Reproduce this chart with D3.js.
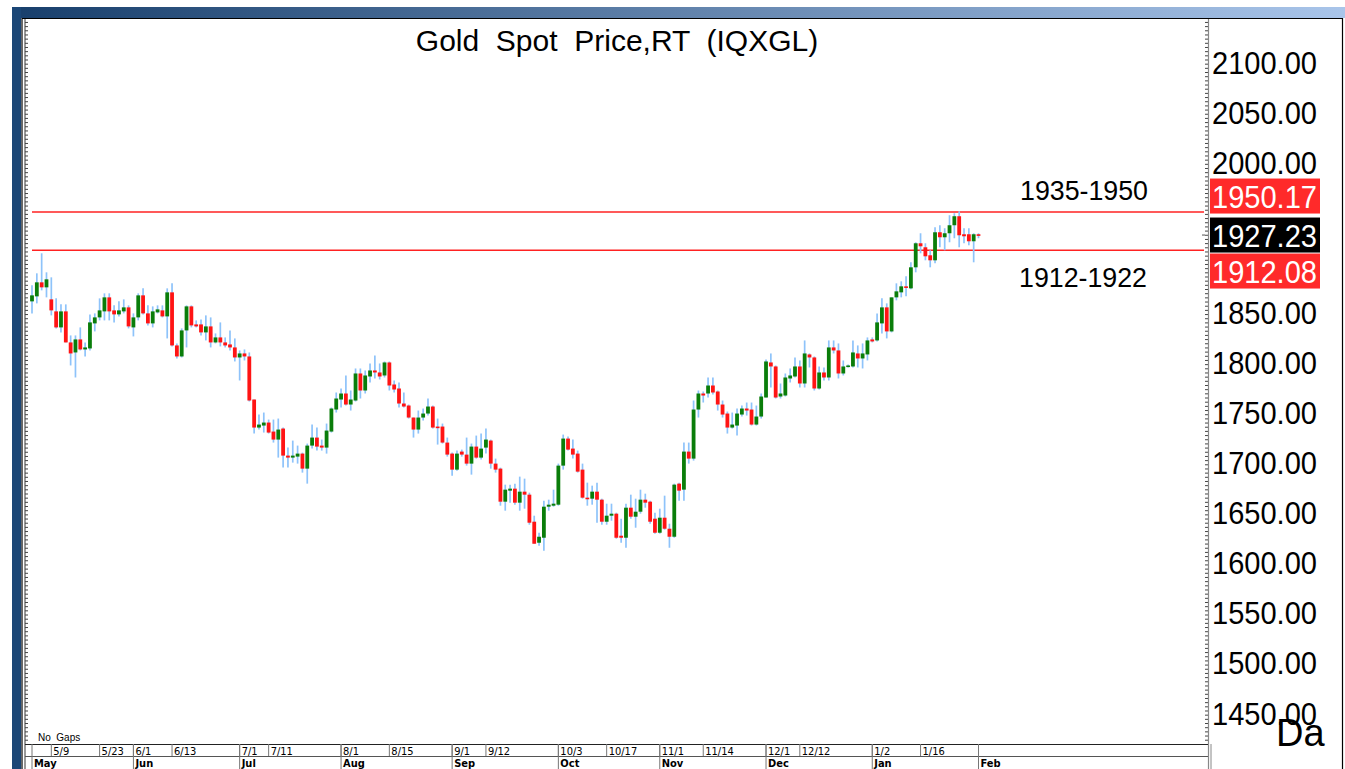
<!DOCTYPE html>
<html>
<head>
<meta charset="utf-8">
<script src="https://cdn.jsdelivr.net/npm/d3@7"></script>
<style>
  body { margin: 0; background: #fff; }
  svg { display: block; font-family: "Liberation Sans", Arial, sans-serif; }
</style>
</head>
<body>
<div id="chart"></div>
<script>
// Trading days shown on the chart (weekdays, May 3 2022 -> Feb 1 2023)
const dates = d3.timeDay.range(new Date(2022, 4, 3), new Date(2023, 1, 2))
    .filter(d => d.getDay() % 6 !== 0)
    .map(d3.timeFormat("%Y-%m-%d"));

// OHLC, one value per trading day
const opens = [1861,1866,1880,1875,1863,1851,1835,1851,1820,1810,1823,1813,1814,1839,1845,1851,1865,1852,1848,1851,1855,
  1835,1845,1867,1849,1839,1850,1852,1846,1870,1817,1806,1832,1856,1838,1838,1830,1836,1820,1825,1820,1818,1815,
  1805,1809,1806,1763,1735,1737,1740,1731,1723,1734,1707,1705,1706,1709,1694,1717,1725,1717,1715,1731,1753,
  1763,1769,1758,1762,1789,1772,1786,1792,1790,1787,1800,1778,1774,1759,1757,1745,1733,1745,1749,1756,1736,1736,1720,
  1709,1693,1711,1708,1699,1716,1705,1715,1722,1699,1694,1661,1672,1674,1660,1671,1668,1641,1620,1625,1656,1657,
  1658,1697,1724,1714,1709,1693,1665,1664,1671,1663,1641,1647,1649,1627,1625,1655,1646,1651,1663,1661,1644,
  1630,1645,1634,1626,1679,1673,1711,1704,1753,1769,1769,1777,1771,1758,1749,1735,1737,1748,1754,1753,1738,1746,
  1765,1800,1796,1766,1767,1784,1786,1796,1779,1808,1805,1774,1790,1785,1815,1812,1789,1796,1796,1809,1804,1808,
  1823,1822,1839,1855,1831,1865,1870,1876,1874,1895,1919,1915,1907,1902,1930,1925,1929,1937,1946,1928,1928,1921,
  1928];
const highs = [1877,1889,1909,1890,1885,1864,1858,1858,1827,1827,1835,1820,1848,1849,1864,1869,1869,1857,1861,1863,1857,
  1849,1869,1874,1857,1856,1857,1857,1874,1879,1819,1834,1857,1857,1842,1843,1847,1845,1829,1840,1825,1832,1824,
  1812,1813,1810,1763,1748,1750,1743,1743,1744,1735,1715,1722,1717,1710,1719,1738,1735,1723,1739,1755,1770,
  1774,1787,1772,1794,1794,1792,1799,1807,1799,1801,1801,1782,1780,1770,1758,1745,1752,1754,1764,1757,1744,1739,1725,
  1710,1712,1713,1725,1719,1727,1729,1734,1723,1704,1695,1678,1678,1679,1686,1684,1670,1647,1630,1662,1663,1673,
  1699,1728,1726,1723,1712,1699,1680,1677,1680,1664,1659,1659,1650,1644,1659,1668,1664,1673,1669,1662,1650,
  1654,1667,1639,1679,1680,1720,1720,1762,1772,1771,1785,1785,1772,1762,1751,1750,1754,1757,1760,1760,1757,1769,
  1803,1809,1797,1779,1789,1794,1805,1802,1822,1809,1806,1796,1795,1822,1822,1819,1802,1798,1822,1817,1819,1825,
  1825,1849,1864,1859,1865,1879,1881,1886,1900,1920,1929,1919,1912,1935,1937,1934,1947,1949,1951,1934,1934,1929,
  1929];
const lows = [1849,1859,1872,1865,1847,1834,1830,1820,1797,1785,1812,1806,1812,1831,1842,1842,1842,1840,1846,1849,1834,
  1826,1842,1848,1837,1835,1849,1845,1824,1816,1804,1805,1815,1835,1835,1827,1822,1815,1819,1816,1815,1812,1801,
  1782,1802,1761,1729,1733,1730,1729,1720,1705,1695,1695,1700,1699,1690,1679,1714,1712,1712,1709,1730,1750,
  1755,1757,1752,1761,1764,1769,1780,1784,1783,1785,1772,1770,1755,1755,1744,1725,1729,1742,1747,1734,1718,1719,1706,
  1687,1692,1706,1697,1688,1704,1703,1709,1694,1690,1657,1652,1660,1658,1652,1654,1638,1619,1617,1612,1652,1656,
  1657,1693,1712,1704,1690,1664,1657,1658,1640,1638,1638,1642,1624,1620,1615,1644,1635,1649,1655,1639,1629,
  1629,1633,1615,1625,1662,1662,1699,1702,1745,1760,1765,1768,1752,1745,1729,1734,1727,1746,1747,1737,1737,1744,
  1765,1775,1764,1764,1766,1780,1785,1775,1775,1795,1772,1773,1782,1782,1809,1784,1787,1795,1795,1795,1794,1802,
  1820,1821,1829,1824,1830,1862,1865,1866,1873,1890,1909,1902,1895,1899,1915,1912,1920,1924,1915,1919,1917,1900,
  1924];
const closes = [1867,1880,1875,1883,1852,1835,1851,1820,1809,1823,1813,1815,1840,1845,1852,1865,1851,1848,1852,1855,1836,
  1845,1867,1849,1839,1851,1853,1846,1870,1817,1806,1832,1856,1837,1836,1830,1836,1820,1825,1820,1817,1815,1805,
  1809,1806,1762,1735,1738,1740,1730,1723,1733,1707,1705,1707,1709,1694,1717,1725,1716,1715,1732,1754,1764,
  1769,1758,1763,1789,1772,1787,1792,1790,1786,1800,1777,1773,1759,1756,1745,1733,1745,1749,1756,1735,1735,1720,1708,
  1693,1709,1708,1699,1716,1705,1714,1723,1699,1693,1661,1673,1674,1660,1671,1668,1640,1619,1626,1656,1658,1659,
  1697,1724,1713,1708,1691,1665,1664,1671,1663,1641,1647,1649,1625,1625,1655,1646,1651,1663,1660,1641,1630,
  1645,1634,1626,1678,1672,1711,1704,1753,1769,1767,1777,1770,1758,1748,1735,1738,1749,1754,1752,1738,1746,1766,
  1801,1796,1765,1769,1785,1787,1796,1779,1809,1805,1774,1790,1785,1815,1812,1789,1796,1797,1810,1804,1809,1822,
  1821,1840,1855,1831,1865,1871,1876,1875,1895,1919,1916,1906,1902,1930,1925,1929,1937,1946,1927,1926,1921,1928,
  1927.23];

// price axis labels (1950 and 1900 sit under the price boxes) and marked levels
const priceTicks = [2100, 2050, 2000, 1850, 1800, 1750, 1700, 1650, 1600, 1550, 1500, 1450];
const levels = [1950.17, 1912.08];
const zoneLabels = ["1935-1950", "1912-1922"];

// date axis
const dayTicks = ["2022-05-09","2022-05-23","2022-06-01","2022-06-13","2022-07-01","2022-07-11","2022-08-01","2022-08-15",
  "2022-09-01","2022-09-12","2022-10-03","2022-10-17","2022-11-01","2022-11-14","2022-12-01","2022-12-12","2023-01-02","2023-01-16"];
const dayLabels = ["5/9","5/23","6/1","6/13","7/1","7/11","8/1","8/15","9/1","9/12","10/3","10/17","11/1","11/14","12/1","12/12","1/2","1/16"];
const monthTicks = ["2022-05-03","2022-06-01","2022-07-01","2022-08-01","2022-09-01","2022-10-03","2022-11-01","2022-12-01","2023-01-02","2023-02-01"];
const monthLabels = ["May","Jun","Jul","Aug","Sep","Oct","Nov","Dec","Jan","Feb"];

const W = 1345, H = 769;
const plotLeft = 25, plotRight = 1208, plotTop = 19, plotBottom = 744;

const svg = d3.select("#chart").append("svg")
    .attr("width", W)
    .attr("height", H);

// window frame: gradient bar on top, dark bar on the left
const defs = svg.append("defs");
const grad = defs.append("linearGradient").attr("id", "topbar");
grad.append("stop").attr("offset", "0%").attr("stop-color", "#183f6c");
grad.append("stop").attr("offset", "100%").attr("stop-color", "#a9c5ea");

svg.append("rect").attr("x", 12).attr("y", 7).attr("width", W - 12).attr("height", 11).attr("fill", "url(#topbar)");
svg.append("rect").attr("x", 12).attr("y", 7).attr("width", 9).attr("height", H - 7).attr("fill", "#1b4676");
svg.append("rect").attr("x", 21).attr("y", 18).attr("width", W - 21).attr("height", H - 18).attr("fill", "#fff");

// outer black borders
svg.append("line").attr("x1", 22).attr("x2", W - 2).attr("y1", 18.5).attr("y2", 18.5).attr("stroke", "#000").attr("stroke-width", 1.2);
svg.append("line").attr("x1", 22).attr("x2", 22).attr("y1", 18).attr("y2", H).attr("stroke", "#000").attr("stroke-width", 1.2);
svg.append("line").attr("x1", 25).attr("x2", 25).attr("y1", 19).attr("y2", H).attr("stroke", "#333").attr("stroke-width", 1);
svg.append("line").attr("x1", W - 2.5).attr("x2", W - 2.5).attr("y1", 18).attr("y2", H).attr("stroke", "#000").attr("stroke-width", 1.2);

// scales
const x = d3.scalePoint()
    .domain(dates)
    .range([32, 978.5]);

const y = d3.scaleLinear()
    .domain([1450, 2100])
    .range([713, 62]);

// minor ticks (left ruler and price axis)
const minorVals = d3.range(1415, 2150, 50 / 12).filter(v => y(v) > plotTop + 1 && y(v) < plotBottom - 2);
svg.append("g")
    .attr("transform", `translate(${plotLeft},0)`)
    .call(d3.axisRight(y).tickValues(minorVals).tickSize(3).tickFormat(""))
    .call(g => g.select(".domain").remove())
    .selectAll("line").attr("stroke", "#444");

const rightAxis = svg.append("g")
    .attr("transform", `translate(${plotRight},0)`)
    .call(d3.axisLeft(y).tickValues(minorVals).tickSize(3).tickFormat(""));
rightAxis.select(".domain").remove();
rightAxis.selectAll("line").attr("stroke", "#444");

svg.append("line").attr("x1", plotRight + 0.5).attr("x2", plotRight + 0.5).attr("y1", plotTop).attr("y2", H)
    .attr("stroke", "#888").attr("stroke-width", 1.2);
svg.append("line").attr("x1", plotRight + 3).attr("x2", plotRight + 3).attr("y1", plotBottom).attr("y2", H)
    .attr("stroke", "#888").attr("stroke-width", 1);

// price labels
svg.append("g")
    .selectAll("text")
    .data(priceTicks)
    .enter()
    .append("text")
        .attr("x", 1212)
        .attr("y", d => y(d))
        .attr("dy", "0.36em")
        .attr("font-size", 32)
        .attr("textLength", 105)
        .attr("lengthAdjust", "spacingAndGlyphs")
        .attr("fill", "#000")
        .text(d => d3.format(".2f")(d));

// title
svg.append("text")
    .attr("x", 617)
    .attr("y", 51)
    .attr("text-anchor", "middle")
    .attr("font-size", 30)
    .style("white-space", "pre")
    .text("Gold  Spot  Price,RT  (IQXGL)");

// level lines
svg.append("g")
    .selectAll("line")
    .data(levels)
    .enter()
    .append("line")
        .attr("x1", 32)
        .attr("x2", 1204)
        .attr("y1", d => y(d))
        .attr("y2", d => y(d))
        .attr("stroke", "#ff2222")
        .attr("stroke-width", 1.6);

// zone labels
svg.append("text").attr("x", 1020).attr("y", y(levels[0]) - 12)
    .attr("font-size", 28).attr("textLength", 128).attr("lengthAdjust", "spacingAndGlyphs")
    .text(zoneLabels[0]);
svg.append("text").attr("x", 1019).attr("y", y(levels[1]) + 37)
    .attr("font-size", 28).attr("textLength", 128).attr("lengthAdjust", "spacingAndGlyphs")
    .text(zoneLabels[1]);

// candles
const candles = dates.map((d, i) => ({date: d, o: opens[i], h: highs[i], l: lows[i], c: closes[i]}));

svg.append("g")
    .selectAll("line")
    .data(candles)
    .enter()
    .append("line")
        .attr("x1", d => x(d.date))
        .attr("x2", d => x(d.date))
        .attr("y1", d => y(d.h))
        .attr("y2", d => y(d.l))
        .attr("stroke", "#8ec3fa")
        .attr("stroke-width", 1.7);

svg.append("g")
    .selectAll("rect")
    .data(candles)
    .enter()
    .append("rect")
        .attr("x", d => x(d.date) - 1.9)
        .attr("width", 3.8)
        .attr("y", d => y(Math.max(d.o, d.c)))
        .attr("height", d => Math.max(1.6, Math.abs(y(d.o) - y(d.c))))
        .attr("fill", d => d.c >= d.o ? "#0a7d0a" : "#ff1414");

// last price marker
const last = candles[candles.length - 1];
svg.append("line").attr("x1", 1202).attr("x2", 1205).attr("y1", y(last.c)).attr("y2", y(last.c))
    .attr("stroke", "#555").attr("stroke-width", 1);

// price boxes on the axis: level above, last close, level below
const boxH = 35;
const lastY = y(last.c);
const boxes = [
  {v: levels[0], top: lastY - boxH / 2 - 4 - boxH, fill: "#ff2a2a"},
  {v: last.c, top: lastY - boxH / 2, fill: "#000"},
  {v: levels[1], top: lastY + boxH / 2 + 1, fill: "#ff2a2a"}
];
const boxG = svg.append("g").selectAll("g").data(boxes).enter().append("g");
boxG.append("rect")
    .attr("x", 1210).attr("width", 110)
    .attr("y", d => d.top).attr("height", boxH)
    .attr("fill", d => d.fill);
boxG.append("text")
    .attr("x", 1212)
    .attr("y", d => d.top + boxH / 2)
    .attr("dy", "0.36em")
    .attr("font-size", 32)
    .attr("textLength", 105)
    .attr("lengthAdjust", "spacingAndGlyphs")
    .attr("fill", "#fff")
    .text(d => d3.format(".2f")(d.v));

// "Da" corner text
svg.append("text").attr("x", 1276).attr("y", 746).attr("font-size", 38).text("Da");

// date axis
svg.append("line").attr("x1", plotLeft).attr("x2", plotRight).attr("y1", plotBottom + 0.5).attr("y2", plotBottom + 0.5)
    .attr("stroke", "#222").attr("stroke-width", 1.2);
svg.append("line").attr("x1", plotLeft).attr("x2", plotRight).attr("y1", 756.5).attr("y2", 756.5)
    .attr("stroke", "#555").attr("stroke-width", 1);

svg.append("text").attr("x", 38).attr("y", 741).attr("font-size", 10).text("No  Gaps").style("white-space", "pre");

const dayG = svg.append("g")
    .selectAll("g")
    .data(dayTicks)
    .enter()
    .append("g")
        .attr("transform", d => `translate(${x(d)},0)`);
dayG.append("line").attr("y1", plotBottom).attr("y2", 756).attr("stroke", "#777");
dayG.append("text")
    .attr("x", 2).attr("y", 755)
    .attr("font-size", 11)
    .attr("font-family", "'DejaVu Sans Condensed', 'Liberation Sans Narrow', 'Liberation Sans', sans-serif")
    .text((d, i) => dayLabels[i]);

const monthG = svg.append("g")
    .selectAll("g")
    .data(monthTicks)
    .enter()
    .append("g")
        .attr("transform", d => `translate(${x(d)},0)`);
monthG.append("line").attr("y1", plotBottom).attr("y2", H).attr("stroke", "#777");
monthG.append("text")
    .attr("x", 2).attr("y", 767)
    .attr("font-size", 11)
    .attr("font-weight", "bold")
    .attr("font-family", "'DejaVu Sans Condensed', 'Liberation Sans Narrow', 'Liberation Sans', sans-serif")
    .text((d, i) => monthLabels[i]);
</script>
</body>
</html>
